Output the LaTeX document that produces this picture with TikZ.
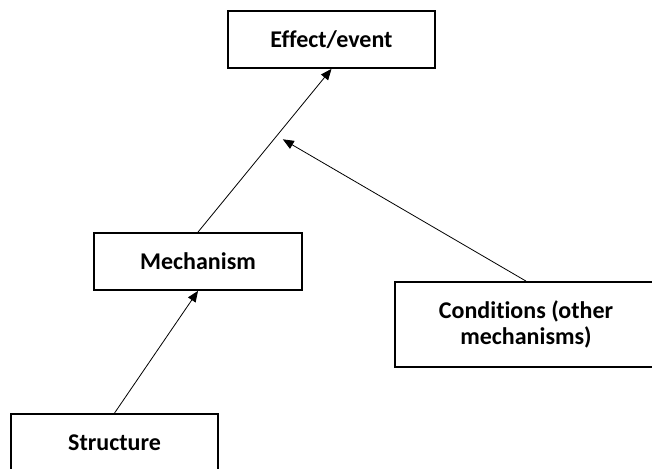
\documentclass[tikz,border=0pt]{standalone}
\usepackage{fontspec}
\setmainfont{Carlito}[Ligatures = NoCommon]
\usetikzlibrary{arrows.meta}
\tikzset{
  causebox/.style = {draw, line width = 1.8pt, align = center,
    font = \fontsize{24}{26}\selectfont\bfseries, inner sep = 0pt},
  causearrow/.style = {-{Triangle[length = 11pt, width = 9pt]},
    line width = 0.8pt}
}
\begin{document}
\begin{tikzpicture}[x = 1pt, y = 1pt]
  \useasboundingbox (0, 0) rectangle (652, 468);
  % draw the four boxes
  \node[causebox, minimum width = 207pt, minimum height = 57pt] (effect)
  at (331.5, 428.5) {Effect/event};
  \node[causebox, minimum width = 208pt, minimum height = 57pt] (mech)
  at (198, 206.5) {Mechanism};
  \node[causebox, minimum width = 262pt, minimum height = 85pt] (cond)
  at (526, 143.5) {Conditions (other\\mechanisms)};
  \node[causebox, minimum width = 207pt, minimum height = 58pt] (struct)
  at (114.5, 25) {Structure};
  % draw structure -> mechanism -> effect
  \draw[causearrow] (struct.north) -- (mech.south);
  \draw[causearrow] (mech.north) -- (effect.south)
  coordinate[pos = 0.59] (hit);
  % draw conditions acting on the mechanism
  \draw[causearrow, shorten >= 7pt] (cond.north) -- (hit);
\end{tikzpicture}
\end{document}
